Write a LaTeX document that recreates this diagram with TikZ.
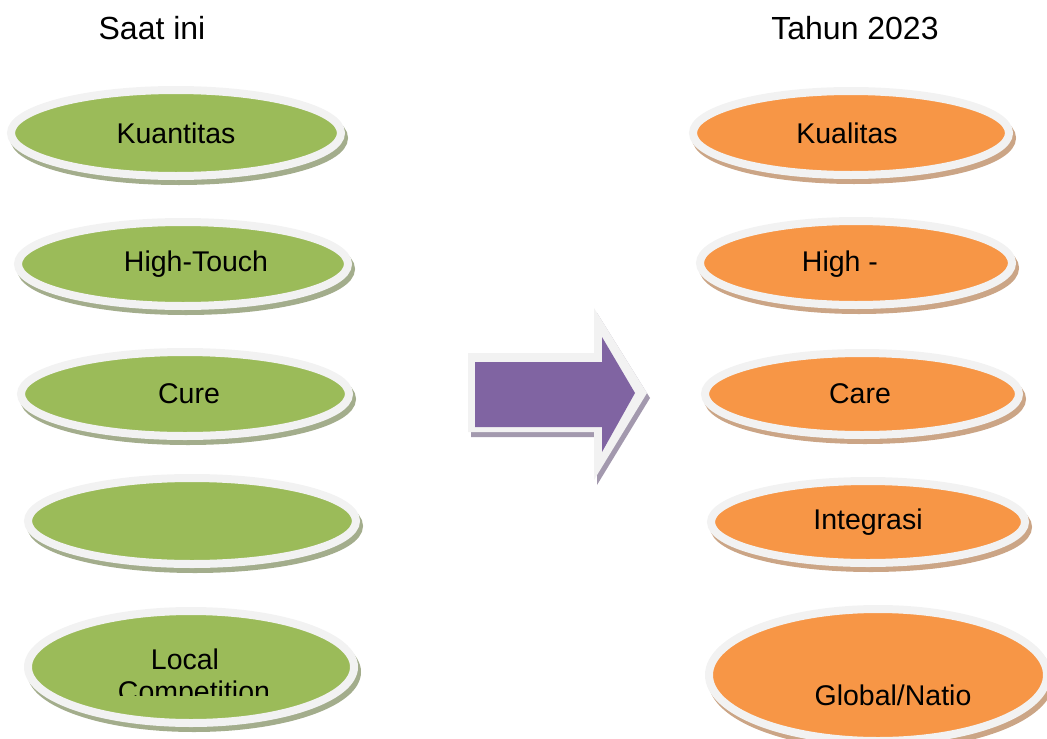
\documentclass[tikz,border=0pt]{standalone}
\usepackage{fontspec}
\setmainfont{Liberation Sans}
\usetikzlibrary{shapes.geometric,shadows}

\definecolor{ovalgreen}{HTML}{9BBB59}
\definecolor{ovalorange}{HTML}{F79646}
\definecolor{arrowpurple}{HTML}{8064A2}
\definecolor{rim}{HTML}{F2F2F2}
\definecolor{greenshadow}{HTML}{A3AD8C}
\definecolor{orangeshadow}{HTML}{CBA586}
\definecolor{purpleshadow}{HTML}{A399AE}

\tikzset{
  oval/.style={shape=ellipse, inner sep=0pt, draw=rim, line width=8pt},
  greenoval/.style={oval, fill=ovalgreen,
    drop shadow={shadow xshift=3pt, shadow yshift=-5pt, fill=greenshadow, draw=greenshadow, line width=8pt, opacity=1}},
  orangeoval/.style={oval, fill=ovalorange,
    drop shadow={shadow xshift=3pt, shadow yshift=-5pt, fill=orangeshadow, draw=orangeshadow, line width=8pt, opacity=1}},
  title/.style={font=\fontsize{32}{38}\selectfont},
  txt/.style={font=\fontsize{28.5}{34}\selectfont, inner sep=0pt}
}

\begin{document}
\begin{tikzpicture}[x=1pt, y=-1pt]
                \clip (0,0) rectangle (1047,739);

                \node[title] (now) at (152,28) {Saat ini};
                \node[title] (later) at (855,28) {Tahun 2023};

                % left column
                \node[greenoval, minimum width=330, minimum height=86] (l1) at (176,133) {};
                \node[greenoval, minimum width=330, minimum height=84] (l2) at (183,264) {};
                \node[greenoval, minimum width=328, minimum height=84] (l3) at (185,394) {};
                \node[greenoval, minimum width=328, minimum height=86] (l4) at (192,521) {};
                \node[greenoval, minimum width=326, minimum height=112] (l5) at (191,667) {};

                \node[txt] (t1) at (176,133) {Kuantitas};
                \node[txt] (t2) at (196,264) {High-Touch};
                \node[txt] (t3) at (189,394) {Cure};
                \node[txt] (t5) at (185,659) {Local};
                \begin{scope}
                    \clip (100,600) rectangle (300,695);
                    \node[txt] (t6) at (194,694) {Competition};
                \end{scope}

                % right column
                \node[orangeoval, minimum width=316, minimum height=84] (r1) at (851,133) {};
                \node[orangeoval, minimum width=312, minimum height=84] (r2) at (856,263) {};
                \node[orangeoval, minimum width=314, minimum height=82] (r3) at (862,394) {};
                \node[orangeoval, minimum width=314, minimum height=82] (r4) at (868,522) {};
                \node[orangeoval, minimum width=338, minimum height=132] (r5) at (878,675) {};

                \node[txt] (s1) at (847,133) {Kualitas};
                \node[txt] (s2) at (840,264) {High -};
                \node[txt] (s3) at (860,394) {Care};
                \node[txt] (s4) at (868,522) {Integrasi};
                \node[txt] (s5) at (893,695) {Global/Natio};

                % arrow
                \fill[purpleshadow] (471,358) -- (597,358) -- (597,313) -- (650,398) -- (597,485) -- (597,437) -- (471,437) -- cycle;
                \fill[rim] (468,353) -- (594,353) -- (594,308) -- (647,393) -- (594,480) -- (594,432) -- (468,432) -- cycle;
                \fill[arrowpurple] (475,362) -- (602,362) -- (602,337) -- (635,393) -- (602,452) -- (602,427) -- (475,427) -- cycle;

            \end{tikzpicture}
\end{document}
